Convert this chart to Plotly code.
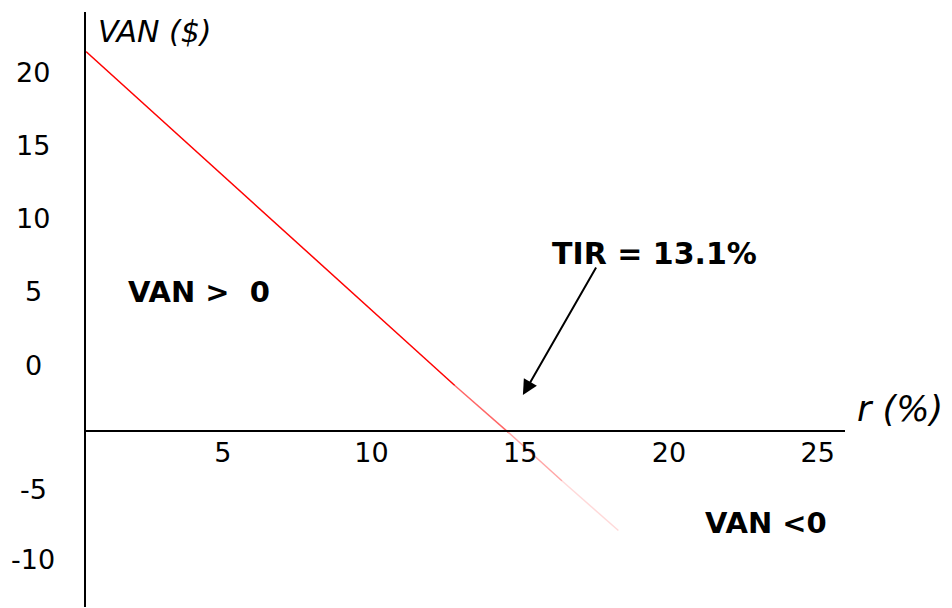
import plotly.graph_objects as go

# ---- data ----
# r (%) and VAN ($) along the red VAN profile; the part below the r-axis fades out
R_SOLID = [0.4, 12.8]
VAN_SOLID = [21.4, -1.4]
R_FADE = [12.8, 14.6, 16.4, 18.3]
VAN_FADE = [-1.4, -4.6, -7.9, -11.3]
FADE_ALPHA = [0.6, 0.35, 0.15]

X_TICKS = [5, 10, 15, 20, 25]
X_TICK_LABELS = ["5", "10", "15", "20", "25"]
Y_TICK_LABELS = ["20", "15", "10", "5", "0", "-5", "-10"]

TIR_TEXT = "TIR = 13.1%"

# ---- layout geometry ----
X_RANGE = [0.4, 25.92]
Y_RANGE = [-16.52, 24.10]
AXIS_Y = -4.5                      # where the r axis is drawn
Y_TICK_POS = [20, 15, 10, 5, 0, -8.5, -13.3]

FONT = "DejaVu Sans, Verdana, sans-serif"

fig = go.Figure()

fig.add_trace(go.Scatter(x=R_SOLID, y=VAN_SOLID, mode="lines",
                         line=dict(color="rgb(255,0,0)", width=1.5),
                         hoverinfo="skip", showlegend=False))
for i, a in enumerate(FADE_ALPHA):
    fig.add_trace(go.Scatter(x=R_FADE[i:i + 2], y=VAN_FADE[i:i + 2], mode="lines",
                             line=dict(color=f"rgba(255,0,0,{a})", width=1.5),
                             hoverinfo="skip", showlegend=False))

pos = (AXIS_Y - Y_RANGE[0]) / (Y_RANGE[1] - Y_RANGE[0])

# page body has an 8px default margin, so the figure is 944x600
fig.update_layout(
    width=944, height=600,
    margin=dict(l=78, r=107, t=4, b=1),
    paper_bgcolor="white", plot_bgcolor="white",
    showlegend=False,
    xaxis=dict(range=X_RANGE, showgrid=False, zeroline=False,
               showline=True, linecolor="black", linewidth=2,
               anchor="free", position=pos,
               tickmode="array", tickvals=X_TICKS, ticktext=X_TICK_LABELS,
               ticks="", ticklabelstandoff=-2,
               tickfont=dict(family=FONT, size=27, color="black")),
    yaxis=dict(range=Y_RANGE, showgrid=False, zeroline=False,
               showline=True, linecolor="black", linewidth=2,
               showticklabels=False, ticks=""),
)

annotations = []
for lab, yv in zip(Y_TICK_LABELS, Y_TICK_POS):
    annotations.append(dict(x=-0.0698, y=yv, xref="paper", yref="y", text=lab,
                            showarrow=False, xanchor="center", yanchor="middle",
                            font=dict(family=FONT, size=27, color="black")))

annotations += [
    dict(x=0.75, y=22.75, xref="x", yref="y", text="<i>VAN ($)</i>",
         showarrow=False, xanchor="left", yanchor="middle",
         font=dict(family=FONT, size=30, color="black")),
    dict(x=1.013, y=-3.0, xref="paper", yref="y", text="<i>r (%)</i>",
         showarrow=False, xanchor="left", yanchor="middle",
         font=dict(family=FONT, size=35, color="black")),
    dict(x=1.75, y=5.0, xref="x", yref="y", text="<b>VAN >  0</b>",
         showarrow=False, xanchor="left", yanchor="middle",
         font=dict(family=FONT, size=29, color="black")),
    dict(x=16.0, y=7.6, xref="x", yref="y", text=f"<b>{TIR_TEXT}</b>",
         showarrow=False, xanchor="left", yanchor="middle",
         font=dict(family=FONT, size=30, color="black")),
    dict(x=21.15, y=-10.8, xref="x", yref="y", text="<b>VAN <0</b>",
         showarrow=False, xanchor="left", yanchor="middle",
         font=dict(family=FONT, size=29, color="black")),
    dict(x=15.09, y=-2.05, xref="x", yref="y", ax=17.58, ay=6.76,
         axref="x", ayref="y", text="", showarrow=True,
         arrowhead=2, arrowsize=1.5, arrowwidth=2, arrowcolor="black"),
]
fig.update_layout(annotations=annotations)

fig.write_html("out.html")
